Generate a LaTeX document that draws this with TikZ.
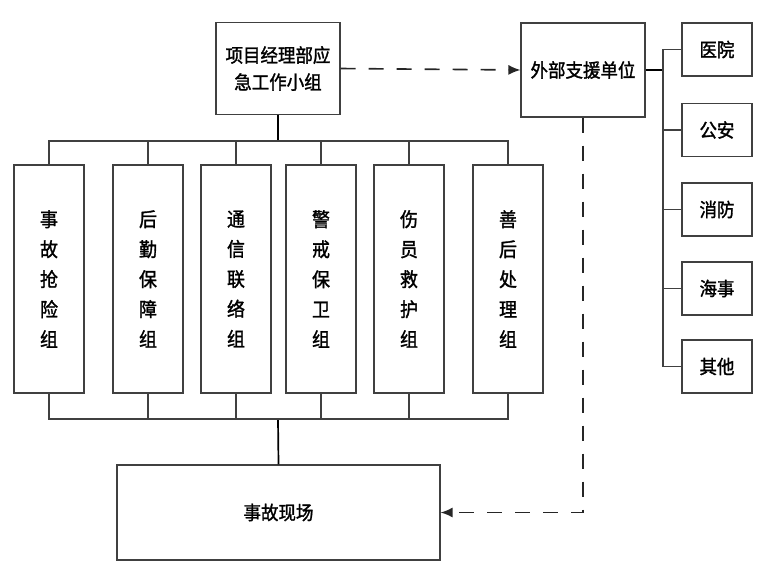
\documentclass[tikz,border=0pt]{standalone}
\usepackage{fontspec}
\setmainfont{Noto Sans CJK SC}[FakeStretch=0.92,FakeBold=1.5]
\usetikzlibrary{arrows.meta}
\begin{document}
\begin{tikzpicture}[x=1pt,y=-1pt,
  box/.style={draw=black!75,line width=1.1pt,rectangle,inner sep=0pt,align=center,font=\fontsize{19}{27}\selectfont},
  vbox/.style={box,minimum width=70pt,minimum height=228pt,font=\fontsize{19.5}{30}\selectfont},
  rbox/.style={box,minimum width=70pt,minimum height=53pt},
  ln/.style={draw=black!75,line width=1.1pt},
  thick ln/.style={draw=black,line width=1.7pt},
  dash ln/.style={draw=black!85,line width=1.6pt,dash pattern=on 15pt off 13pt},
  tip/.style={-{Latex[length=12pt,width=10pt]}}]
\useasboundingbox (0,0) rectangle (760,570);
\node[box,minimum width=124pt,minimum height=92pt] (top) at (278,68.5) {项目经理部应\\急工作小组};
\node[box,minimum width=124pt,minimum height=94pt] (ext) at (583,70) {外部支援单位};
\node[rbox] (r1) at (717,49.5) {医院};
\node[rbox] (r2) at (717,130) {公安};
\node[rbox] (r3) at (717,209.5) {消防};
\node[rbox] (r4) at (717,288.5) {海事};
\node[rbox] (r5) at (717,366.5) {其他};
\node[vbox] (g1) at (49,279) {事\\故\\抢\\险\\组};
\node[vbox] (g2) at (148,279) {后\\勤\\保\\障\\组};
\node[vbox] (g3) at (236,279) {通\\信\\联\\络\\组};
\node[vbox] (g4) at (321,279) {警\\戒\\保\\卫\\组};
\node[vbox] (g5) at (409,279) {伤\\员\\救\\护\\组};
\node[vbox] (g6) at (508,279) {善\\后\\处\\理\\组};
\node[box,minimum width=323pt,minimum height=95pt] (site) at (278.5,512.5) {事故现场};
\coordinate (bt) at (278,141);
\coordinate (bb) at (278,419);
\coordinate (rv) at (663,70);
% top bus
\draw[thick ln] (top.south) -- (bt);
\draw[ln] (g1.north) |- (bt) -| (g6.north);
\foreach \g in {g2,g3,g4,g5} \draw[ln] (\g.north) -- (\g.north |- bt);
% bottom bus
\draw[thick ln] (bb) -- (site.north);
\draw[ln] (g1.south) |- (bb) -| (g6.south);
\foreach \g in {g2,g3,g4,g5} \draw[ln] (\g.south) -- (\g.south |- bb);
% right tree
\draw[thick ln] (ext.east) -- (rv);
\draw[ln] (r1.west) -| (rv);
\draw[ln] (r5.west) -| (rv);
\foreach \r in {r2,r3,r4} \draw[ln] (\r.west) -- (\r.west -| rv);
% dashed
\draw[dash ln,tip] (top.east) -- (ext.west);
\draw[dash ln,tip] (ext.south) |- (site.east);
\end{tikzpicture}
\end{document}
